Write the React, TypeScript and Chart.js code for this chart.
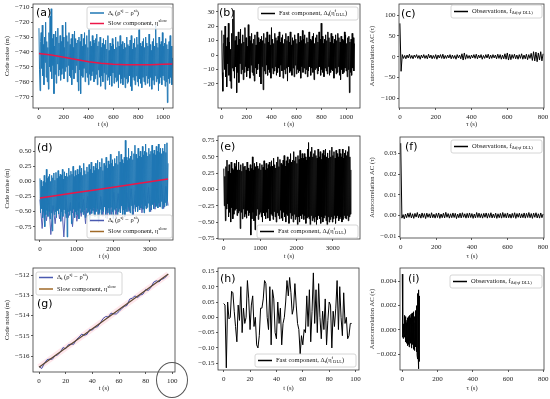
import React, { useEffect, useRef } from "react";
import { Chart, registerables } from "chart.js";
Chart.register(...registerables);

const SERIF = '"Liberation Serif", "DejaVu Serif", serif';
const SANS = '"DejaVu Sans", sans-serif';

// ---------- DATA ----------
// (a) observations and slow component, t = 0..1075 s
const aT_END = 1075;
const aObs = [
  -724,-752,-766,-733,-727,-751,-722,-756,-735,-762,
  -730,-747,-720,-757,-733,-760,-737,-765,-727,-750,
  -716,-753,-711,-758,-731,-749,-728,-768,-736,-755,
  -726,-761,-730,-748,-724,-756,-734,-752,-729,-759,
  -733,-755,-722,-751,-730,-758,-737,-753,-720,-750,
  -729,-760,-733,-749,-727,-756,-735,-757,-731,-762,
  -728,-752,-737,-758,-726,-754,-731,-749,-734,-760,
  -732,-766,-730,-752,-733,-768,-728,-756,-736,-757,
  -731,-751,-727,-760,-735,-754,-729,-757,-737,-762,
  -725,-755,-733,-759,-736,-756,-729,-753,-732,-760,
  -734,-758,-731,-755,-728,-762,-736,-752,-733,-757,
  -730,-763,-737,-756,-734,-760,-731,-754,-735,-765,
  -732,-755,-738,-759,-729,-757,-739,-762,-734,-756,
  -736,-763,-731,-754,-735,-761,-738,-757,-730,-760,
  -737,-759,-733,-764,-736,-755,-729,-761,-735,-758,
  -733,-762,-738,-757,-734,-764,-737,-758,-730,-761,
  -735,-760,-736,-756,-732,-763,-729,-766,-738,-757,
  -734,-759,-731,-762,-737,-756,-730,-760,-735,-763,
  -725,-758,-734,-761,-736,-764,-733,-757,-731,-760,
  -737,-762,-730,-756,-734,-761,-736,-758,-728,-763,
  -735,-757,-739,-765,-733,-759,-731,-762,-736,-756,
  -722,-760,-734,-758,-737,-766,-730,-761,-735,-757,
  -733,-762,-727,-756,-736,-759,-734,-763,-731,-760,
  -735,-774,-738,-758,-733,-761,-729,-757,-736,-762,
  -744,
];
const aSlowT = [0, 100, 200, 300, 400, 500, 600, 700, 800, 900, 1000, 1075];
const aSlow = [-741, -742, -743.5, -745, -746.5, -747.5, -748.2, -748.5, -748.6, -748.5, -748.2, -748.0];

// (b) fast component, t = 0..1065 s
const bT_END = 1065;
const bFast = [
  17,-12,-25,8,14,-10,20,-15,6,-22,
  12,-6,22,-14,9,-18,4,-23,15,-9,
  25,-11,31,-16,10,-8,13,-26,7,-12,
  16,-19,11,-6,18,-13,8,-10,14,-17,
  9,-12,19,-8,12,-15,6,-11,21,-9,
  13,-16,10,-7,15,-12,8,-14,11,-18,
  14,-9,7,-13,16,-10,12,-6,9,-15,
  11,-20,13,-8,10,-24,15,-11,8,-13,
  12,-7,16,-14,9,-10,14,-12,7,-16,
  19,-9,11,-13,8,-11,15,-8,12,-14,
  10,-12,13,-9,16,-15,9,-7,12,-11,
  14,-16,8,-10,11,-13,15,-9,10,-18,
  13,-8,9,-12,16,-11,7,-14,12,-9,
  10,-15,14,-7,11,-13,8,-10,15,-12,
  9,-11,13,-16,10,-8,17,-12,11,-9,
  14,-13,8,-10,12,-15,9,-11,16,-8,
  11,-14,10,-9,13,-12,15,-17,8,-10,
  12,-9,14,-13,9,-11,16,-8,11,-14,
  22,-10,13,-12,8,-15,11,-9,14,-11,
  10,-13,16,-8,12,-14,9,-12,15,-10,
  13,-11,8,-16,11,-9,14,-13,10,-12,
  15,-8,12,-14,9,-17,13,-10,11,-13,
  10,-12,16,-9,14,-11,8,-15,12,-10,
  13,-26,9,-12,11,-14,15,-9,12,-11,
  8,
];

// (c) autocorrelation, lag 0..800 s
const cT_END = 800;
const cAC = [
  80,-35,5,-4,3,-5,4,-3,6,-4,
  3,-5,4,-2,5,-4,3,-6,4,-3,
  5,-4,3,-5,6,-3,4,-5,3,-4,
  5,-6,4,-3,5,-4,6,-5,3,-4,
  4,-3,5,-5,4,-4,3,-6,5,-3,
  4,-5,7,-8,9,-6,5,-4,3,-5,
  4,-3,5,-4,6,-5,4,-3,5,-6,
  3,-4,5,-3,6,-5,4,-4,5,-3,
  4,-5,6,-4,5,-6,4,-5,7,-6,
  9,-8,6,-7,5,-4,6,-5,4,-6,
  5,-4,7,-6,4,-5,6,-7,5,-4,
  8,-9,12,-10,11,-12,9,-8,12,-10,
  7,
];

// (d) observations, slow component, t = 0..3500 s
const dT_END = 3500;
const dObs = [
  0.05,-0.52,0.02,-0.45,-0.08,-0.6,0.0,-0.5,0.1,-0.75,
  -0.02,-0.55,0.2,-0.48,0.05,-0.58,0.08,-0.5,0.12,-0.62,
  0.0,-0.52,0.1,-0.82,0.06,-0.46,0.14,-0.55,0.02,-0.5,
  0.15,-0.6,0.05,-0.48,0.18,-0.54,0.08,-0.45,0.12,-0.66,
  0.1,-0.5,0.2,-0.58,0.04,-0.47,0.16,-0.53,0.09,-0.6,
  0.14,-0.92,0.08,-0.5,0.22,-0.56,0.1,-0.48,0.17,-0.7,
  0.12,-0.52,0.25,-0.46,0.08,-0.6,0.18,-0.5,0.1,-0.55,
  0.2,-0.48,0.12,-0.62,0.26,-0.45,0.15,-0.52,0.22,-0.5,
  0.1,-0.55,0.3,-0.47,0.18,-0.6,0.12,-0.44,0.24,-0.52,
  0.16,-0.5,0.28,-0.66,0.2,-0.46,0.32,-0.53,0.14,-0.48,
  0.25,-0.44,0.18,-0.58,0.3,-0.5,0.22,-0.45,0.35,-0.6,
  0.2,-0.52,0.32,-0.46,0.24,-0.55,0.38,-0.48,0.18,-0.5,
  0.3,-0.42,0.26,-0.6,0.4,-0.47,0.22,-0.52,0.34,-0.44,
  0.28,-0.55,0.45,-0.43,0.3,-0.5,0.36,-0.62,0.25,-0.46,
  0.38,-0.48,0.3,-0.44,0.42,-0.56,0.28,-0.5,0.5,-0.45,
  0.32,-0.52,0.45,-0.4,0.36,-0.55,0.3,-0.47,0.4,-0.58,
  0.68,-0.45,0.4,-0.5,0.35,-0.42,0.55,-0.48,0.38,-0.52,
  0.42,-0.4,0.5,-0.55,0.36,-0.45,0.46,-0.38,0.6,-0.5,
  0.45,-0.42,0.38,-0.5,0.55,-0.4,0.42,-0.47,0.5,-0.44,
  0.4,-0.38,0.58,-0.46,0.44,-0.52,0.5,-0.4,0.62,-0.45,
  0.48,-0.43,0.42,-0.36,0.55,-0.5,0.45,-0.4,0.5,-0.47,
  0.6,-0.38,0.46,-0.45,0.52,-0.35,0.44,-0.42,0.58,-0.4,
  0.5,-0.44,0.62,-0.36,0.48,-0.42,0.55,-0.33,0.46,-0.45,
  0.55,-0.38,0.5,-0.42,0.62,-0.35,0.48,-0.4,0.64,-0.32,
  0.3,
];
const dObs2 = [
  -0.3,-0.78,-0.35,-0.65,-0.3,-0.88,-0.4,-0.7,-0.32,-0.62,
  -0.38,-0.92,-0.3,-0.6,-0.35,-0.75,-0.28,-0.66,-0.34,-0.58,
  -0.3,-0.7,-0.25,-0.6,-0.3,-0.55,-0.2,-0.68,-0.25,-0.58,
  -0.22,-0.62,-0.2,-0.55,-0.18,-0.6,-0.2,-0.52,-0.15,-0.58,
  -0.18,-0.5,-0.12,-0.55,-0.15,-0.48,-0.1,-0.52,-0.12,-0.45,
  -0.1,-0.5,-0.08,-0.46,-0.1,-0.42,-0.05,-0.45,-0.08,-0.4,
];
const dSlowT = [0, 500, 1000, 1500, 2000, 2500, 3000, 3500];
const dSlow = [-0.275, -0.23, -0.185, -0.14, -0.095, -0.05, -0.005, 0.04];

// (e) fast component, t = 0..3500 s
const eT_END = 3500;
const eFast = [
  0.32,-0.25,0.2,-0.48,0.35,-0.3,0.45,-0.22,0.28,-0.42,
  0.38,-0.35,0.25,-0.5,0.42,-0.28,0.32,-0.45,0.3,-0.38,
  0.4,-0.32,0.35,-0.3,0.45,-0.4,0.3,-0.36,0.42,-0.33,
  0.3,-0.6,0.38,-0.35,0.28,-0.45,0.4,-0.3,0.35,-0.42,
  0.36,-0.38,0.3,-0.44,0.42,-0.32,0.33,-0.4,0.28,-0.36,
  0.38,-0.7,0.32,-0.45,0.5,-0.35,0.3,-0.48,0.4,-0.62,
  0.35,-0.4,0.42,-0.3,0.36,-0.46,0.32,-0.38,0.4,-0.35,
  0.3,-0.42,0.38,-0.5,0.34,-0.36,0.44,-0.4,0.3,-0.45,
  0.4,-0.35,0.32,-0.44,0.38,-0.3,0.42,-0.48,0.35,-0.38,
  0.44,-0.4,0.36,-0.46,0.48,-0.34,0.38,-0.42,0.33,-0.5,
  0.42,-0.36,0.5,-0.4,0.35,-0.45,0.46,-0.32,0.4,-0.44,
  0.38,-0.48,0.45,-0.35,0.52,-0.42,0.36,-0.5,0.44,-0.38,
  0.5,-0.4,0.4,-0.52,0.46,-0.36,0.55,-0.45,0.42,-0.4,
  0.45,-0.5,0.58,-0.38,0.44,-0.46,0.5,-0.42,0.4,-0.55,
  0.52,-0.42,0.46,-0.5,0.6,-0.4,0.48,-0.45,0.55,-0.38,
  0.48,-0.46,0.55,-0.4,0.5,-0.52,0.45,-0.44,0.62,-0.42,
  0.72,-0.45,0.5,-0.55,0.58,-0.4,0.65,-0.48,0.5,-0.44,
  0.55,-0.5,0.6,-0.42,0.52,-0.55,0.48,-0.46,0.62,-0.4,
  0.5,-0.45,0.58,-0.52,0.46,-0.42,0.55,-0.5,0.6,-0.44,
  0.52,-0.4,0.62,-0.48,0.5,-0.55,0.56,-0.42,0.48,-0.5,
  0.6,-0.46,0.5,-0.42,0.65,-0.5,0.52,-0.45,0.58,-0.4,
  0.48,-0.52,0.6,-0.44,0.55,-0.4,0.5,-0.48,0.62,-0.45,
  0.55,-0.42,0.5,-0.5,0.62,-0.46,0.48,-0.4,0.56,-0.44,
  0.6,-0.45,0.52,-0.4,0.58,-0.48,0.66,-0.42,0.5,-0.38,
  0.3,
];

// (f) autocorrelation, lag 0..800 s
const fT_END = 800;
const fAC = [
  0.035,-0.0012,0.0005,-0.0015,0.0008,-0.001,0.0012,-0.0008,0.0014,-0.0011,
  0.0009,-0.0013,0.0011,-0.0007,0.0015,-0.001,0.0008,-0.0012,0.0013,-0.0009,
  0.001,-0.0014,0.0012,-0.0008,0.0009,-0.0011,0.0014,-0.001,0.0007,-0.0012,
  0.0011,-0.0009,0.0013,-0.0013,0.0008,-0.001,0.0012,-0.0011,0.0016,-0.0008,
  0.001,-0.0012,0.0009,-0.001,0.0013,-0.0009,0.0011,-0.0014,0.0008,-0.001,
  0.0012,-0.0011,0.0014,-0.0008,0.0009,-0.0012,0.0011,-0.001,0.0013,-0.0009,
  0.001,-0.0013,0.0008,-0.0011,0.0015,-0.0009,0.0012,-0.001,0.0009,-0.0012,
  0.0011,-0.0008,0.0013,-0.0012,0.001,-0.0009,0.0014,-0.0011,0.0008,-0.001,
  0.0012,-0.0013,0.0009,-0.001,0.0011,-0.0012,0.0015,-0.0009,0.001,-0.0011,
  0.0013,-0.001,0.0008,-0.0012,0.0011,-0.0009,0.0014,-0.0013,0.001,-0.0008,
  0.0012,-0.0011,0.0009,-0.001,0.0013,-0.0012,0.0011,-0.0009,0.0015,-0.001,
  0.001,-0.0013,0.0012,-0.0008,0.0014,-0.0011,0.0009,-0.0012,0.0013,-0.001,
  0.0008,
];

// (g) observations every 2 s and slow component
const gStep = 2;
const gObs = [
  -516.51,-516.62,-516.37,-516.18,-516.15,-516.16,-515.99,-515.94,-515.81,-515.58,
  -515.64,-515.44,-515.41,-515.42,-515.19,-515.07,-514.92,-514.98,-514.93,-514.69,
  -514.72,-514.58,-514.55,-514.37,-514.15,-514.05,-514.07,-513.88,-513.92,-513.92,
  -513.80,-513.66,-513.55,-513.50,-513.19,-513.14,-513.03,-513.11,-512.99,-512.94,
  -512.71,-512.76,-512.60,-512.35,-512.28,-512.34,-512.21,-512.16,-512.02,
];
const gSlowT = [0, 97];
const gSlow = [-516.55, -511.95];

// (h) fast component, t = 0..97 s (1 s)
const hFast = [
  0.045,0.04,-0.165,0.05,-0.005,0.0,0.085,0.08,0.02,-0.03,
  -0.08,0.04,-0.01,0.10,-0.05,0.03,-0.02,0.0,0.12,0.06,
  -0.04,0.04,0.07,-0.03,0.0,-0.09,-0.10,-0.06,0.03,0.03,
  0.06,0.12,0.11,0.0,-0.04,0.10,-0.09,0.09,0.06,-0.05,
  -0.07,0.05,-0.02,0.03,-0.09,-0.02,0.0,0.05,0.12,0.07,
  0.13,0.08,0.01,0.03,0.11,0.04,-0.02,-0.04,-0.12,-0.06,
  -0.09,-0.04,-0.05,0.07,-0.03,0.09,-0.08,0.02,0.145,-0.02,
  0.09,-0.05,0.11,0.0,-0.07,0.02,-0.04,0.06,-0.09,-0.01,
  0.05,0.04,-0.10,0.02,-0.03,0.03,0.12,-0.04,0.10,0.0,
  -0.06,0.08,-0.02,0.0,-0.07,-0.06,-0.02,-0.02,
];

// (i) autocorrelation, lag 0..97 s
const iAC = [
  0.0046,-0.0006,0.0002,-0.0005,0.0003,-0.0007,0.0001,-0.0004,0.0005,-0.0003,
  0.0,0.0008,-0.0004,0.0012,-0.0006,0.0,0.0007,-0.001,0.0004,0.0011,
  -0.0008,0.0009,-0.0002,-0.0011,0.0006,0.0002,-0.0004,0.0008,-0.0013,0.0005,
  0.001,-0.0007,0.0003,0.0009,-0.0012,0.0,0.0011,-0.0005,0.0006,-0.0014,
  0.0004,0.0012,-0.0003,-0.0009,0.0008,0.0002,-0.0011,0.001,-0.0006,0.0005,
  0.0013,-0.0008,-0.0015,0.0009,0.0001,-0.001,0.0014,-0.0004,0.0007,-0.0012,
  0.001,0.0003,-0.0016,0.0012,-0.0002,0.0015,-0.0009,0.0006,-0.0013,0.0,
  0.0011,-0.0017,0.0009,0.0005,-0.001,0.0016,-0.0006,-0.0014,0.0013,0.0002,
  -0.0018,0.002,-0.0009,0.001,-0.0021,0.0023,-0.0012,0.0018,-0.0024,0.003,
  -0.002,0.0033,-0.0032,0.0025,-0.0015,0.0028,-0.0026,0.0012,
];

// ---------- TICKS ----------
const aXT = [0, 200, 400, 600, 800, 1000];
const aXL = ["0", "200", "400", "600", "800", "1000"];
const aYT = [-770, -760, -750, -740, -730, -720, -710];
const aYL = ["\u2212770", "\u2212760", "\u2212750", "\u2212740", "\u2212730", "\u2212720", "\u2212710"];
const bYT = [-20, -10, 0, 10, 20, 30];
const bYL = ["\u221220", "\u221210", "0", "10", "20", "30"];
const lagXT = [0, 200, 400, 600, 800];
const lagXL = ["0", "200", "400", "600", "800"];
const cYT = [-100, -50, 0, 50, 100];
const cYL = ["\u2212100", "\u221250", "0", "50", "100"];
const dXT = [0, 1000, 2000, 3000];
const dXL = ["0", "1000", "2000", "3000"];
const dYT = [-0.75, -0.5, -0.25, 0, 0.25, 0.5];
const dYL = ["\u22120.75", "\u22120.50", "\u22120.25", "0.00", "0.25", "0.50"];
const eYT = [-0.75, -0.5, -0.25, 0, 0.25, 0.5, 0.75];
const eYL = ["\u22120.75", "\u22120.50", "\u22120.25", "0.00", "0.25", "0.50", "0.75"];
const fYT = [-0.01, 0, 0.01, 0.02, 0.03];
const fYL = ["\u22120.01", "0.00", "0.01", "0.02", "0.03"];
const gXT = [0, 20, 40, 60, 80, 100];
const gXL = ["0", "20", "40", "60", "80", "100"];
const gYT = [-516, -515, -514, -513, -512];
const gYL = ["\u2212516", "\u2212515", "\u2212514", "\u2212513", "\u2212512"];
const hYT = [-0.15, -0.1, -0.05, 0, 0.05, 0.1, 0.15];
const hYL = ["\u22120.15", "\u22120.10", "\u22120.05", "0.00", "0.05", "0.10", "0.15"];
const iYT = [-0.002, 0, 0.002, 0.004];
const iYL = ["\u22120.002", "0.000", "0.002", "0.004"];

// ---------- TEXT ----------
const T_OBS = "\u0394_{t} (\u03c1^{sj} \u2212 \u03c1^{si})";
const T_SLOW = "Slow component, \u03b7^{slow}";
const T_FAST = "Fast component, \u0394_{t}(\u03b7^{f}_{DLL})";
const T_AC = "Observations, f_{\u0394t(\u03b7f DLL)}";
const T_CODE = "Code noise (m)";
const T_ACY = "Autocorrelation AC (\u03c4)";
const T_TX = "t (s)";
const T_TAU = "\u03c4 (s)";

// ---------- COLORS ----------
const BLUE = "#1f77b4";
const RED = "rgb(236,22,72)";
const SLATE = "#4a5ab0";
const BROWN = "#a06a28";
const BLACK = "#000000";

// ---------- HELPERS ----------
const seq = (vals: number[], tEnd: number) =>
  vals.map((v, i) => ({ x: (i * tEnd) / (vals.length - 1), y: v }));
const stepSeq = (vals: number[], step: number) => vals.map((v, i) => ({ x: i * step, y: v }));
const pairs = (xs: number[], ys: number[]) => xs.map((x, i) => ({ x, y: ys[i] }));

function parseRich(s: string) {
  const out: { t: string; m: number }[] = [];
  let i = 0;
  let buf = "";
  while (i < s.length) {
    const c = s[i];
    if ((c === "_" || c === "^") && s[i + 1] === "{") {
      if (buf) out.push({ t: buf, m: 0 });
      buf = "";
      const j = s.indexOf("}", i);
      out.push({ t: s.slice(i + 2, j), m: c === "_" ? 1 : 2 });
      i = j + 1;
    } else {
      buf += c;
      i++;
    }
  }
  if (buf) out.push({ t: buf, m: 0 });
  return out;
}

function drawRich(ctx: CanvasRenderingContext2D, s: string, x: number, y: number, size: number) {
  let cx = x;
  ctx.textBaseline = "middle";
  ctx.textAlign = "left";
  for (const seg of parseRich(s)) {
    const fs = seg.m ? size * 0.7 : size;
    const dy = seg.m === 1 ? 1.8 : seg.m === 2 ? -2.2 : 0;
    ctx.font = `${fs}px ${SERIF}`;
    ctx.fillText(seg.t, cx, y + dy);
    cx += ctx.measureText(seg.t).width;
  }
}

const decoPlugin = {
  id: "deco",
  afterDraw(chart: any, _args: any, opts: any) {
    const ctx: CanvasRenderingContext2D = chart.ctx;
    const a = chart.chartArea;
    ctx.save();
    ctx.strokeStyle = "#3a3a3a";
    ctx.lineWidth = 0.8;
    ctx.strokeRect(a.left, a.top, a.right - a.left, a.bottom - a.top);
    ctx.fillStyle = "#000";
    ctx.font = `11px ${SANS}`;
    ctx.textBaseline = "middle";
    ctx.textAlign = "left";
    ctx.fillText(opts.label, opts.labelX, opts.labelY);
    const L = opts.legend;
    if (L) {
      ctx.beginPath();
      const r = 2;
      ctx.moveTo(L.x + r, L.y);
      ctx.arcTo(L.x + L.w, L.y, L.x + L.w, L.y + L.h, r);
      ctx.arcTo(L.x + L.w, L.y + L.h, L.x, L.y + L.h, r);
      ctx.arcTo(L.x, L.y + L.h, L.x, L.y, r);
      ctx.arcTo(L.x, L.y, L.x + L.w, L.y, r);
      ctx.closePath();
      ctx.fillStyle = "rgba(255,255,255,0.85)";
      ctx.fill();
      ctx.strokeStyle = "#cccccc";
      ctx.lineWidth = 0.8;
      ctx.stroke();
      L.items.forEach((it: any, k: number) => {
        const y = L.rows[k];
        ctx.strokeStyle = it.color;
        ctx.lineWidth = 1.5;
        ctx.beginPath();
        ctx.moveTo(L.x + 3, y);
        ctx.lineTo(L.x + 17, y);
        ctx.stroke();
        ctx.fillStyle = "#111";
        drawRich(ctx, it.text, L.x + 21, y, 6.5);
      });
    }
    ctx.restore();
  },
};

type Panel = {
  key: string;
  box: [number, number, number, number];
  yW: number;
  padR: number;
  padT: number;
  xH: number;
  xTitlePad: number;
  x: [number, number];
  y: [number, number];
  xt: number[];
  xl: string[];
  yt: number[];
  yl: string[];
  xTitle: string;
  yTitle: string;
  datasets: any[];
  label: string;
  labelX: number;
  labelY: number;
  legend: any;
};

const line = (data: any[], color: string, width = 1) => ({
  data,
  borderColor: color,
  borderWidth: width,
  pointRadius: 0,
  fill: false,
  tension: 0,
});

// datasets listed bottom -> top
const layered = (list: any[]) => list.map((d, i) => ({ ...d, order: list.length - i }));

const panels: Panel[] = [
  {
    key: "a", box: [0, 0, 183, 130], yW: 33, padR: 10, padT: 4, xH: 22, xTitlePad: 2,
    x: [-48, 1080], y: [-777.6, -707.8], xt: aXT, xl: aXL, yt: aYT, yl: aYL,
    xTitle: T_TX, yTitle: T_CODE,
    datasets: layered([line(seq(aObs, aT_END), BLUE, 1), line(pairs(aSlowT, aSlow), RED, 1.5)]),
    label: "(a)", labelX: 36, labelY: 13,
    legend: { x: 87, y: 7, w: 85, h: 22, rows: [13, 23.5], items: [{ color: BLUE, text: T_OBS }, { color: RED, text: T_SLOW }] },
  },
  {
    key: "b", box: [183, 0, 182, 130], yW: 35, padR: 5, padT: 4, xH: 22, xTitlePad: 2,
    x: [-30, 1110], y: [-36.6, 35.3], xt: aXT, xl: aXL, yt: bYT, yl: bYL,
    xTitle: T_TX, yTitle: "",
    datasets: layered([line(seq(bFast, bT_END), BLACK, 1)]),
    label: "(b)", labelX: 36, labelY: 13.5,
    legend: { x: 75, y: 7, w: 100, h: 13, rows: [13.5], items: [{ color: BLACK, text: T_FAST }] },
  },
  {
    key: "c", box: [365, 0, 185, 130], yW: 34, padR: 6, padT: 4, xH: 22, xTitlePad: 2,
    x: [-5, 805], y: [-123, 126.4], xt: lagXT, xl: lagXL, yt: cYT, yl: cYL,
    xTitle: T_TAU, yTitle: T_ACY,
    datasets: layered([line(seq(cAC, cT_END), BLACK, 1)]),
    label: "(c)", labelX: 36, labelY: 14,
    legend: { x: 86, y: 5, w: 91, h: 13, rows: [11.5], items: [{ color: BLACK, text: T_AC }] },
  },
  {
    key: "d", box: [0, 130, 183, 130], yW: 35, padR: 10, padT: 7, xH: 20, xTitlePad: 0,
    x: [-136, 3636], y: [-0.97, 0.736], xt: dXT, xl: dXL, yt: dYT, yl: dYL,
    xTitle: T_TX, yTitle: T_CODE,
    datasets: layered([
      line(seq(dObs2, dT_END), "#5560b4", 1),
      line(seq(dObs, dT_END), BLUE, 1),
      line(pairs(dSlowT, dSlow), RED, 1.5),
    ]),
    label: "(d)", labelX: 37, labelY: 18,
    legend: { x: 87, y: 85, w: 85, h: 23, rows: [90.5, 101.5], items: [{ color: SLATE, text: T_OBS }, { color: BROWN, text: T_SLOW }] },
  },
  {
    key: "e", box: [183, 130, 182, 130], yW: 35, padR: 5, padT: 6, xH: 21, xTitlePad: 0,
    x: [-160, 3750], y: [-0.76, 0.82], xt: dXT, xl: dXL, yt: eYT, yl: eYL,
    xTitle: T_TX, yTitle: "",
    datasets: layered([line(seq(eFast, eT_END), BLACK, 1)]),
    label: "(e)", labelX: 37, labelY: 17,
    legend: { x: 74, y: 95, w: 101, h: 13, rows: [101.5], items: [{ color: BLACK, text: T_FAST }] },
  },
  {
    key: "f", box: [365, 130, 185, 130], yW: 35, padR: 6, padT: 7, xH: 22, xTitlePad: 0,
    x: [-4, 805], y: [-0.0108, 0.038], xt: lagXT, xl: lagXL, yt: fYT, yl: fYL,
    xTitle: T_TAU, yTitle: T_ACY,
    datasets: layered([line(seq(fAC, fT_END), BLACK, 1)]),
    label: "(f)", labelX: 40, labelY: 17,
    legend: { x: 86, y: 10, w: 91, h: 13, rows: [16.5], items: [{ color: BLACK, text: T_AC }] },
  },
  {
    key: "g", box: [0, 260, 183, 139], yW: 33, padR: 8, padT: 8, xH: 27, xTitlePad: 7,
    x: [-4.5, 102], y: [-516.79, -511.65], xt: gXT, xl: gXL, yt: gYT, yl: gYL,
    xTitle: T_TX, yTitle: T_CODE,
    datasets: layered([
      line(pairs(gSlowT, gSlow), "rgba(255,120,150,0.18)", 6),
      line(stepSeq(gObs, gStep), "#4452a8", 1),
      line(pairs(gSlowT, gSlow), "#5a4630", 1.2),
    ]),
    label: "(g)", labelX: 37, labelY: 44,
    legend: { x: 36, y: 12, w: 86, h: 23, rows: [17.5, 29], items: [{ color: SLATE, text: T_OBS }, { color: BROWN, text: T_SLOW }] },
  },
  {
    key: "h", box: [183, 260, 182, 139], yW: 35, padR: 6, padT: 8, xH: 29, xTitlePad: 7,
    x: [-4.3, 102.6], y: [-0.172, 0.161], xt: gXT, xl: gXL, yt: hYT, yl: hYL,
    xTitle: T_TX, yTitle: "",
    datasets: layered([line(stepSeq(hFast, 1), BLACK, 1)]),
    label: "(h)", labelX: 37, labelY: 19,
    legend: { x: 72, y: 94, w: 101, h: 13, rows: [100.5], items: [{ color: BLACK, text: T_FAST }] },
  },
  {
    key: "i", box: [365, 260, 185, 139], yW: 35, padR: 6, padT: 8, xH: 29, xTitlePad: 7,
    x: [-13, 804], y: [-0.0033, 0.0051], xt: lagXT, xl: lagXL, yt: iYT, yl: iYL,
    xTitle: T_TAU, yTitle: T_ACY,
    datasets: layered([line(stepSeq(iAC, 1), BLACK, 1)]),
    label: "(i)", labelX: 43, labelY: 19,
    legend: { x: 85, y: 15, w: 92, h: 13, rows: [21.5], items: [{ color: BLACK, text: T_AC }] },
  },
];

function buildConfig(p: Panel): any {
  const tickFont = { family: SERIF, size: 7 };
  const titleFont = { family: SERIF, size: 6.5 };
  return {
    type: "line",
    data: { datasets: p.datasets },
    options: {
      animation: false,
      responsive: false,
      events: [],
      layout: { padding: { left: 0, right: p.padR, top: p.padT, bottom: 0 } },
      plugins: {
        legend: { display: false },
        tooltip: { enabled: false },
        deco: { label: p.label, labelX: p.labelX, labelY: p.labelY, legend: p.legend },
      },
      scales: {
        x: {
          type: "linear",
          min: p.x[0],
          max: p.x[1],
          afterBuildTicks: (s: any) => { s.ticks = p.xt.map((v) => ({ value: v })); },
          afterFit: (s: any) => { s.height = p.xH; s.paddingLeft = 0; s.paddingRight = 0; },
          ticks: {
            font: tickFont, color: "#222", padding: 2.5, maxRotation: 0, autoSkip: false,
            callback: (_v: any, i: number) => p.xl[i],
          },
          grid: { drawOnChartArea: false, drawTicks: true, tickLength: 2, color: "#333", lineWidth: 0.8 },
          border: { display: false },
          title: { display: true, text: p.xTitle, font: titleFont, color: "#222", padding: { top: 0, bottom: p.xTitlePad } },
        },
        y: {
          type: "linear",
          min: p.y[0],
          max: p.y[1],
          afterBuildTicks: (s: any) => { s.ticks = p.yt.map((v) => ({ value: v })); },
          afterFit: (s: any) => { s.width = p.yW; s.paddingTop = 0; s.paddingBottom = 0; },
          ticks: {
            font: tickFont, color: "#222", padding: 1.5, autoSkip: false,
            callback: (_v: any, i: number) => p.yl[i],
          },
          grid: { drawOnChartArea: false, drawTicks: true, tickLength: 2, color: "#333", lineWidth: 0.8 },
          border: { display: false },
          title: { display: !!p.yTitle, text: p.yTitle, font: titleFont, color: "#222", padding: { top: 3, bottom: 0 } },
        },
      },
    },
    plugins: [decoPlugin],
  };
}

function PanelChart({ p }: { p: Panel }) {
  const ref = useRef<HTMLCanvasElement>(null);
  useEffect(() => {
    const chart = new Chart(ref.current as HTMLCanvasElement, buildConfig(p));
    return () => chart.destroy();
  }, [p]);
  return (
    <canvas
      ref={ref}
      width={p.box[2]}
      height={p.box[3]}
      style={{ position: "absolute", left: p.box[0], top: p.box[1], width: p.box[2], height: p.box[3] }}
    />
  );
}

export default function App() {
  useEffect(() => {
    document.body.style.margin = "0";
  }, []);
  return (
    <div style={{ position: "fixed", left: 0, top: 0, width: 550, height: 399, background: "#fff", overflow: "hidden" }}>
      {panels.map((p) => (
        <PanelChart key={p.key} p={p} />
      ))}
      <div
        style={{
          position: "absolute", left: 156, top: 362, width: 32, height: 36,
          border: "1px solid #555", borderRadius: "50%", pointerEvents: "none", boxSizing: "border-box",
        }}
      />
    </div>
  );
}
